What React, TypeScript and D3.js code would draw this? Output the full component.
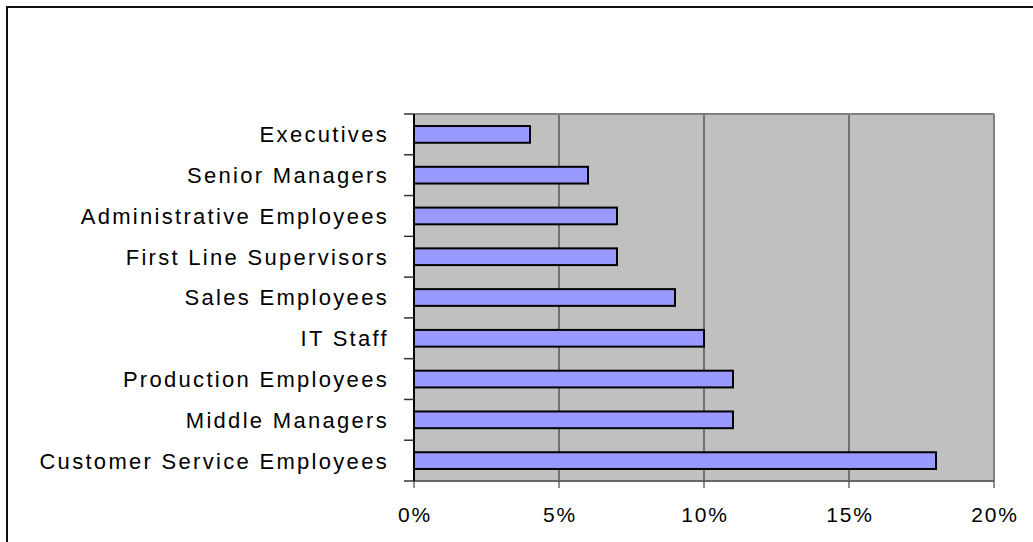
import React from "react";
import * as d3 from "d3";

const categories = [
  "Executives",
  "Senior Managers",
  "Administrative Employees",
  "First Line Supervisors",
  "Sales Employees",
  "IT Staff",
  "Production Employees",
  "Middle Managers",
  "Customer Service Employees",
];
const values = [4, 6, 7, 7, 9, 10, 11, 11, 18];
const xTicks = [0, 5, 10, 15, 20];

const W = 1033;
const H = 542;
const plot = { left: 414, right: 994, top: 114, bottom: 481 };
const FONT = "'Liberation Sans', Arial, sans-serif";

export default function App() {
  const x = d3.scaleLinear().domain([0, 20]).range([plot.left, plot.right]);
  const y = d3
    .scaleBand<string>()
    .domain(categories)
    .range([plot.top, plot.bottom])
    .paddingInner(0.59)
    .paddingOuter(0.295);
  const step = y.step();
  const boundaries = d3.range(categories.length + 1).map((i) => plot.top + i * step);

  return (
    <svg
      width={W}
      height={H}
      style={{ position: "absolute", left: 0, top: 0, display: "block" }}
      fontFamily={FONT}
    >
      <rect x={0} y={0} width={W} height={H} fill="#fff" />
      {/* outer frame */}
      <rect x={7} y={7} width={W + 20} height={H + 20} fill="none" stroke="#111" strokeWidth={2} />
      {/* plot background */}
      <rect
        x={plot.left}
        y={plot.top}
        width={plot.right - plot.left}
        height={plot.bottom - plot.top}
        fill="#C0C0C0"
      />
      {/* gridlines */}
      {xTicks.slice(1, -1).map((t) => (
        <line key={t} x1={x(t)} x2={x(t)} y1={plot.top} y2={plot.bottom} stroke="#222" strokeWidth={1} />
      ))}
      {/* plot border top/right */}
      <line x1={plot.left} x2={plot.right} y1={plot.top} y2={plot.top} stroke="#808080" strokeWidth={2} />
      <line x1={plot.right} x2={plot.right} y1={plot.top} y2={plot.bottom} stroke="#808080" strokeWidth={2} />
      {/* bars */}
      {categories.map((c, i) => (
        <rect
          key={c}
          x={x(0)}
          y={y(c)!}
          width={x(values[i]) - x(0)}
          height={y.bandwidth()}
          fill="#9999FF"
          stroke="#000"
          strokeWidth={2}
        />
      ))}
      {/* bottom axis */}
      <line x1={plot.left} x2={plot.right} y1={plot.bottom} y2={plot.bottom} stroke="#666" strokeWidth={2} />
      {xTicks.map((t) => (
        <g key={t}>
          <line x1={x(t)} x2={x(t)} y1={plot.bottom} y2={plot.bottom + 7} stroke="#222" strokeWidth={1} />
          <text
            x={x(t) + 1}
            y={522}
            textAnchor="middle"
            fontSize={21}
            letterSpacing={1.8}
            fill="#000"
          >
            {t}%
          </text>
        </g>
      ))}
      {/* left axis */}
      <line x1={plot.left} x2={plot.left} y1={plot.top} y2={plot.bottom} stroke="#000" strokeWidth={2} />
      {boundaries.map((b, i) => (
        <line key={i} x1={plot.left - 10} x2={plot.left} y1={b} y2={b} stroke="#333" strokeWidth={1.5} />
      ))}
      {categories.map((c) => (
        <text
          key={c}
          x={389}
          y={y(c)! + y.bandwidth() / 2}
          dy="0.36em"
          textAnchor="end"
          fontSize={22}
          letterSpacing={2.3}
          fill="#000"
        >
          {c}
        </text>
      ))}
    </svg>
  );
}
